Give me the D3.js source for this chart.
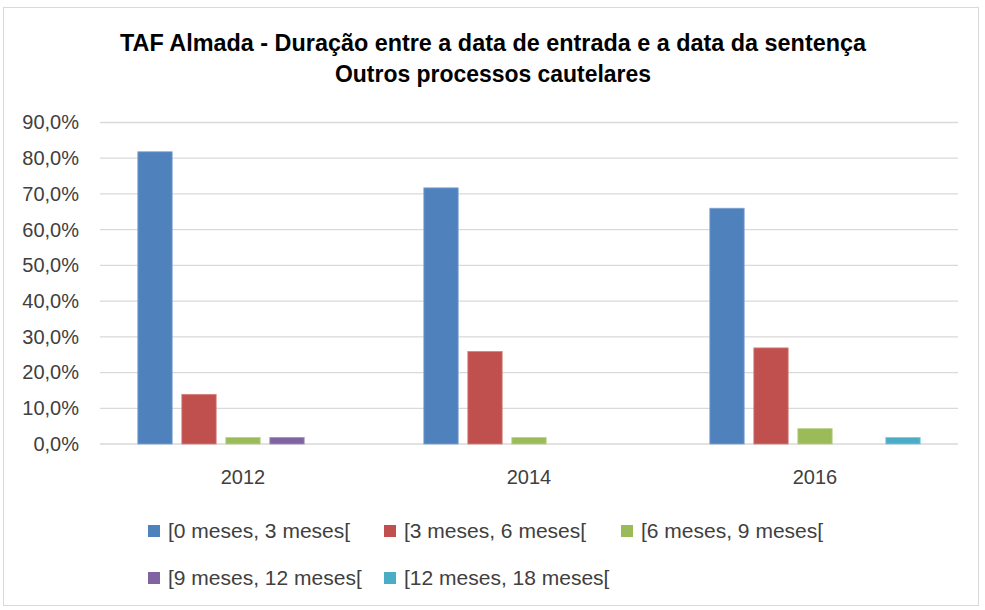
<!DOCTYPE html>
<html>
<head>
<meta charset="utf-8">
<script src="https://cdn.jsdelivr.net/npm/d3@7"></script>
<style>
  body { margin: 0; background: #fff; }
  text { font-family: "Liberation Sans", Arial, sans-serif; fill: #404040; }
</style>
</head>
<body>
<div id="chart-area"></div>
<script>
// data
var years = ["2012", "2014", "2016"];
var seriesNames = ["[0 meses, 3 meses[", "[3 meses, 6 meses[", "[6 meses, 9 meses[",
                   "[9 meses, 12 meses[", "[12 meses, 18 meses["];
var s0a3 = [81.8, 71.7, 66.0];
var s3a6 = [13.9, 25.9, 26.9];
var s6a9 = [1.8, 1.8, 4.3];
var s9a12 = [1.8, 0, 0];
var s12a18 = [0, 0, 1.8];
var yTicks = [0, 10, 20, 30, 40, 50, 60, 70, 80, 90];
var colors = ["#4F81BD", "#C0504D", "#9BBB59", "#8064A2", "#4BACC6"];
var strokes = ["#7FA3D1", "#D6807E", "#B9D08A", "#A28BBE", "#7FC6D9"];

var allSeries = [s0a3, s3a6, s6a9, s9a12, s12a18];
var data = years.map((y, i) => {
    return {year: y, values: seriesNames.map((s, j) => ({name: s, idx: j, value: allSeries[j][i]}))};
});

var width = 985, height = 610;
var svg = d3.select("#chart-area").append("svg")
    .attr("width", width)
    .attr("height", height);

svg.append("rect")
    .attr("x", 3.5).attr("y", 7.5)
    .attr("width", 975).attr("height", 598)
    .attr("fill", "#fff")
    .attr("stroke", "#d9d9d9");

// title
svg.append("text")
    .attr("x", 493).attr("y", 51)
    .attr("text-anchor", "middle")
    .attr("font-size", "23px").attr("font-weight", "bold")
    .attr("textLength", 746).attr("lengthAdjust", "spacingAndGlyphs")
    .style("fill", "#000")
    .text("TAF Almada - Duração entre a data de entrada e a data da sentença");
svg.append("text")
    .attr("x", 493).attr("y", 82)
    .attr("text-anchor", "middle")
    .attr("font-size", "23px").attr("font-weight", "bold")
    .attr("textLength", 316).attr("lengthAdjust", "spacingAndGlyphs")
    .style("fill", "#000")
    .text("Outros processos cautelares");

var x0 = d3.scaleBand()
    .domain(years)
    .range([100, 958])
    .paddingInner(0)
    .paddingOuter(0);

var x1 = d3.scaleBand()
    .domain(seriesNames)
    .range([0, x0.bandwidth()])
    .paddingInner(0.22)
    .paddingOuter(0.86);

var y = d3.scaleLinear()
    .domain([0, 90])
    .range([444, 122.5]);

// grid
svg.append("g").selectAll("line").data(yTicks).enter()
    .append("line")
        .attr("x1", 100).attr("x2", 958)
        .attr("y1", d => y(d)).attr("y2", d => y(d))
        .attr("stroke", "#d9d9d9")
        .attr("stroke-width", 1.3);

// y axis labels
var leftAxis = d3.axisLeft(y)
    .tickValues(yTicks)
    .tickSize(0)
    .tickPadding(0)
    .tickFormat(d => d.toFixed(1).replace(".", ",") + "%");
var gy = svg.append("g")
    .attr("transform", "translate(79,0)")
    .call(leftAxis);
gy.select(".domain").remove();
gy.selectAll("text").attr("font-size", "20px").attr("font-family", null).style("fill", "#404040");

// bars
var groups = svg.append("g").selectAll("g").data(data).enter()
    .append("g")
        .attr("transform", d => "translate(" + x0(d.year) + ",0)");
groups.selectAll("rect").data(d => d.values.filter(v => v.value > 0)).enter()
    .append("rect")
        .attr("x", d => x1(d.name))
        .attr("y", d => y(d.value))
        .attr("width", x1.bandwidth())
        .attr("height", d => y(0) - y(d.value))
        .attr("fill", d => colors[d.idx])
        .attr("stroke", d => strokes[d.idx])
        .attr("stroke-width", 0.8);

// x axis labels
var bottomAxis = d3.axisBottom(x0).tickSize(0).tickPadding(0);
var gx = svg.append("g")
    .attr("transform", "translate(0,470)")
    .call(bottomAxis);
gx.select(".domain").remove();
gx.selectAll("text").attr("font-size", "20px").attr("font-family", null).attr("dy", "0.71em").style("fill", "#404040");

// legend
var legendPos = [[148, 531], [384, 531], [621, 531], [148, 578], [384, 578]];
var legend = svg.append("g").selectAll("g").data(seriesNames).enter()
    .append("g")
        .attr("transform", (d, i) => "translate(" + legendPos[i][0] + "," + legendPos[i][1] + ")");
legend.append("rect")
    .attr("x", 0).attr("y", -6)
    .attr("width", 12).attr("height", 12)
    .attr("fill", (d, i) => colors[i]);
legend.append("text")
    .attr("x", 20).attr("y", 0)
    .attr("dy", "0.35em")
    .attr("font-size", "21px")
    .text(d => d);
</script>
</body>
</html>
